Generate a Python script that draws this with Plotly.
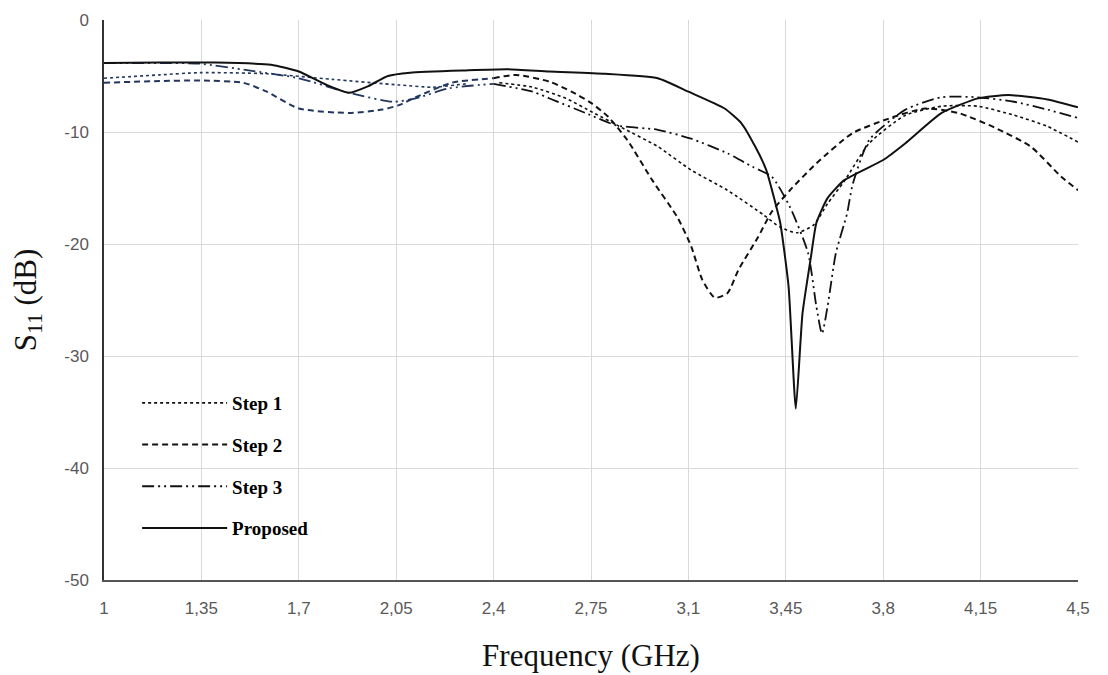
import numpy as np
import plotly.graph_objects as go

# ---------------- data ----------------
x_step1 = [1.0, 1.2, 1.345, 1.585, 1.82, 2.06, 2.18, 2.30, 2.42, 2.54, 2.66, 2.76, 2.86, 2.99,
           3.11, 3.24, 3.37, 3.43, 3.49, 3.55, 3.60, 3.66, 3.75, 3.88, 4.01, 4.14, 4.27, 4.39, 4.5]
y_step1 = [-5.2, -4.9, -4.7, -4.8, -5.3, -5.8, -6.0, -5.7, -5.6, -6.0, -7.0, -8.3, -9.6, -11.3,
           -13.4, -15.2, -17.4, -18.5, -19.0, -18.3, -16.4, -14.4, -11.0, -8.5, -7.7, -7.7, -8.5, -9.5, -10.9]

x_step2 = [1.0, 1.2, 1.345, 1.5, 1.585, 1.70, 1.88, 2.0, 2.06, 2.12, 2.25, 2.40, 2.48, 2.6, 2.68,
           2.75, 2.81, 2.88, 2.97, 3.06, 3.11, 3.15, 3.195, 3.24, 3.28, 3.35, 3.40, 3.465, 3.56,
           3.69, 3.82, 3.95, 4.07, 4.20, 4.33, 4.44, 4.5]
y_step2 = [-5.6, -5.45, -5.4, -5.6, -6.4, -7.9, -8.3, -8.0, -7.6, -6.9, -5.6, -5.2, -4.9, -5.5, -6.4,
           -7.4, -8.6, -10.7, -14.3, -17.6, -20.2, -23.2, -24.8, -24.4, -22.3, -19.4, -17.1, -15.2, -12.8,
           -10.1, -8.8, -7.9, -8.3, -9.6, -11.3, -14.0, -15.2]

x_step3 = [1.0, 1.2, 1.345, 1.52, 1.70, 1.88, 2.04, 2.12, 2.24, 2.40, 2.54, 2.62, 2.73, 2.84, 2.99,
           3.11, 3.24, 3.33, 3.40, 3.465, 3.53, 3.56, 3.58, 3.60, 3.63, 3.67, 3.69, 3.75, 3.88,
           4.01, 4.14, 4.27, 4.39, 4.5]
y_step3 = [-3.85, -3.85, -3.9, -4.5, -5.2, -6.5, -7.3, -7.0, -6.1, -5.7, -6.4, -7.2, -8.3, -9.4, -9.8,
           -10.6, -11.9, -13.1, -14.0, -16.7, -20.8, -25.6, -28.0, -25.6, -20.8, -17.3, -14.7, -10.7, -8.0,
           -6.9, -6.9, -7.3, -8.0, -8.75]

x_prop = [1.0, 1.2, 1.4, 1.6, 1.7, 1.8, 1.88, 1.95, 2.02, 2.1, 2.3, 2.45, 2.6, 2.8, 2.99, 3.1,
          3.23, 3.29, 3.34, 3.38, 3.41, 3.43, 3.46, 3.486, 3.51, 3.54, 3.56, 3.60, 3.66, 3.80,
          3.88, 4.01, 4.14, 4.25, 4.39, 4.5]
y_prop = [-3.85, -3.8, -3.8, -4.0, -4.6, -5.8, -6.5, -5.9, -5.0, -4.7, -4.5, -4.4, -4.6, -4.8, -5.2, -6.4,
          -7.9, -9.2, -11.3, -13.4, -16.1, -18.1, -23.8, -34.7, -26.2, -21.2, -18.1, -15.9, -14.3, -12.5,
          -11.0, -8.3, -7.0, -6.7, -7.1, -7.8]

x_ticks = [1, 1.35, 1.7, 2.05, 2.4, 2.75, 3.1, 3.45, 3.8, 4.15, 4.5]
x_ticktext = ["1", "1,35", "1,7", "2,05", "2,4", "2,75", "3,1", "3,45", "3,8", "4,15", "4,5"]
y_ticks = [0, -10, -20, -30, -40, -50]
y_ticktext = ["0", "-10", "-20", "-30", "-40", "-50"]

NAVY = "#22365e"
BLACK = "#111111"
SPLIT = 2.4

fig = go.Figure()

series = [
    ("Step 1", x_step1, y_step1, "dot", 1.6),
    ("Step 2", x_step2, y_step2, "6px,4px", 2.0),
    ("Step 3", x_step3, y_step3, "12px,4px,2px,4px,2px,4px", 1.8),
]

for name, xs, ys, dash, w in series:
    xa = np.array(xs); ya = np.array(ys)
    left = xa <= SPLIT + 1e-9
    right = xa >= SPLIT - 0.08
    fig.add_trace(go.Scatter(x=xa[left], y=ya[left], mode="lines", name=f"<b>{name}</b>", legendgroup=name,
                             showlegend=False, line=dict(color=NAVY, width=w, dash=dash, shape="spline", smoothing=0.6)))
    fig.add_trace(go.Scatter(x=xa[right], y=ya[right], mode="lines", name=f"<b>{name}</b>", legendgroup=name,
                             line=dict(color=BLACK, width=w, dash=dash, shape="spline", smoothing=0.6)))

fig.add_trace(go.Scatter(x=x_prop, y=y_prop, mode="lines", name="<b>Proposed</b>", legendgroup="Proposed",
                         line=dict(color=BLACK, width=2, shape="spline", smoothing=0.5)))

fig.update_layout(
    width=1108, height=675,
    margin=dict(l=96, r=38, t=12, b=103),
    paper_bgcolor="white", plot_bgcolor="white",
    showlegend=True,
    legend=dict(x=0.034, y=0.35, xanchor="left", yanchor="top",
                font=dict(family="Liberation Serif", size=19, color="black"),
                bgcolor="rgba(0,0,0,0)", tracegroupgap=14, traceorder="grouped",
                itemwidth=85),
    xaxis=dict(range=[1, 4.5], tickvals=x_ticks, ticktext=x_ticktext, automargin=False,
               showgrid=True, gridcolor="#d9d9d9", gridwidth=1, zeroline=False,
               showline=True, linecolor="#555555", linewidth=1.5,
               ticks="", ticklabelstandoff=12,
               tickfont=dict(family="Liberation Sans", size=17, color="#595959"),
               title=dict(text="Frequency (GHz)", font=dict(family="Liberation Serif", size=31, color="#111111"),
                          standoff=27)),
    yaxis=dict(range=[-50, 0], tickvals=y_ticks, ticktext=y_ticktext, automargin=False,
               showgrid=True, gridcolor="#d9d9d9", gridwidth=1, zeroline=False,
               showline=True, linecolor="#333333", linewidth=1.5,
               ticks="", ticklabelstandoff=10,
               tickfont=dict(family="Liberation Sans", size=17, color="#595959"),
               title=dict(text="S<sub>11</sub> (dB)", font=dict(family="Liberation Serif", size=31, color="#111111"),
                          standoff=24)),
)

fig.write_html("out.html")
